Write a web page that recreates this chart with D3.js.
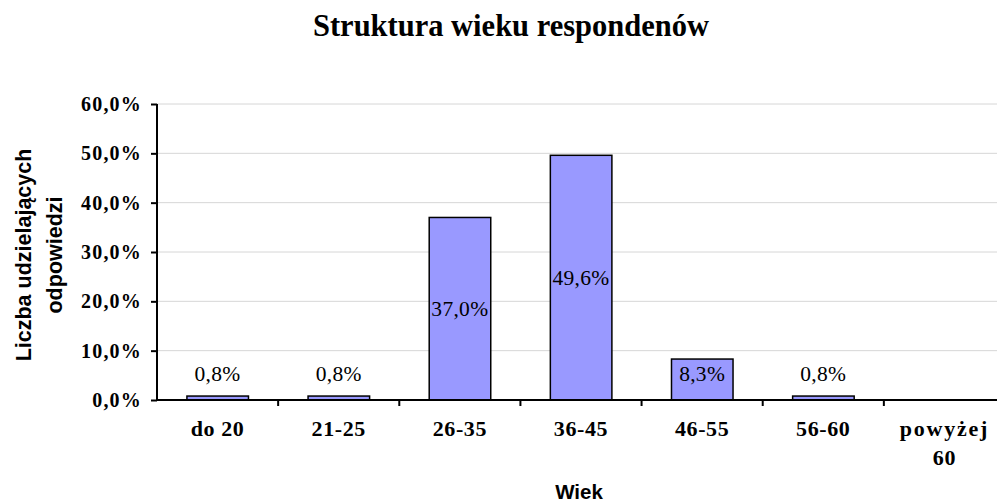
<!DOCTYPE html>
<html>
<head>
<meta charset="utf-8">
<script src="https://cdn.jsdelivr.net/npm/d3@7"></script>
<style>
  html, body { margin: 0; padding: 0; background: #fff; }
  svg { display: block; }
</style>
</head>
<body>
<script>
const categories = ["do 20", "21-25", "26-35", "36-45", "46-55", "56-60", "powyżej 60"];
const values = [0.8, 0.8, 37.0, 49.6, 8.3, 0.8, 0];
const yTicks = [0, 10, 20, 30, 40, 50, 60];
const title = "Struktura wieku respondenów";
const yTitle = ["Liczba udzielających", "odpowiedzi"];
const xTitle = "Wiek";

const W = 997, H = 503;
const mLeft = 157, mRight = 1005, mTop = 104, mBottom = 400;

const svg = d3.select("body").append("svg").attr("width", W).attr("height", H);

const x = d3.scaleBand().domain(categories).range([mLeft, mRight]).padding(0);
const y = d3.scaleLinear().domain([0, 60]).range([mBottom, mTop]);
const fmt = v => d3.format(".1f")(v).replace(".", ",") + "%";

// gridlines
svg.append("g").selectAll("line").data(yTicks.filter(d => d > 0)).join("line")
  .attr("x1", mLeft).attr("x2", mRight)
  .attr("y1", d => y(d)).attr("y2", d => y(d))
  .attr("stroke", "#d6d6d6").attr("stroke-width", 1);

// bars
const bw = x.bandwidth();
const data = categories.map((c, i) => ({ c, v: values[i] })).filter(d => d.v > 0);
svg.append("g").selectAll("rect").data(data).join("rect")
  .attr("x", d => x(d.c) + bw * 0.247)
  .attr("width", bw * 0.508)
  .attr("y", d => y(d.v))
  .attr("height", d => y(0) - y(d.v))
  .attr("fill", "#9999ff")
  .attr("stroke", "#000").attr("stroke-width", 1.5);

// data labels
svg.append("g").selectAll("text").data(data).join("text")
  .attr("x", d => x(d.c) + bw / 2)
  .attr("y", d => Math.min((y(d.v) + y(0)) / 2, y(0) - 26) + 7)
  .attr("text-anchor", "middle")
  .attr("font-family", "'Liberation Serif', 'Times New Roman', serif")
  .attr("font-size", 21.5)
  .attr("letter-spacing", 0.3)
  .attr("fill", "#000")
  .text(d => fmt(d.v));

// y axis
const yAxis = svg.append("g").attr("transform", `translate(${mLeft},0)`)
  .call(d3.axisLeft(y).tickValues(yTicks).tickSize(6).tickPadding(9).tickFormat(d => fmt(d)));
yAxis.select(".domain").attr("stroke", "#000").attr("stroke-width", 2).attr("d", `M0,${mTop}V${mBottom}`);
yAxis.selectAll(".tick line").attr("stroke", "#000").attr("stroke-width", 2);
yAxis.selectAll(".tick text")
  .attr("font-family", "'Liberation Serif', 'Times New Roman', serif")
  .attr("font-weight", "bold").attr("font-size", 20).attr("letter-spacing", 1.2)
  .attr("fill", "#000");

// x axis
const xAxis = svg.append("g").attr("transform", `translate(0,${mBottom})`)
  .call(d3.axisBottom(x).tickSize(0).tickFormat(""));
xAxis.select(".domain").attr("stroke", "#000").attr("stroke-width", 2).attr("d", `M${mLeft},0H${mRight}`);
xAxis.selectAll(".tick line").remove();
// category boundary ticks
svg.append("g").selectAll("line").data(categories.slice(1)).join("line")
  .attr("x1", d => x(d)).attr("x2", d => x(d))
  .attr("y1", mBottom).attr("y2", mBottom + 6)
  .attr("stroke", "#000").attr("stroke-width", 2);

// category labels
const catG = svg.append("g").selectAll("text").data(categories).join("text")
  .attr("x", d => x(d) + bw / 2)
  .attr("y", 436)
  .attr("text-anchor", "middle")
  .attr("font-family", "'Liberation Serif', 'Times New Roman', serif")
  .attr("font-weight", "bold").attr("font-size", 22)
  .attr("fill", "#000");
catG.each(function(d) {
  const parts = d === "powyżej 60" ? ["powyżej", "60"] : [d];
  const t = d3.select(this);
  parts.forEach((p, i) => {
    t.append("tspan").attr("x", x(d) + bw / 2).attr("dy", i === 0 ? 0 : 29)
      .attr("letter-spacing", p === "powyżej" ? 1.8 : 0.6)
      .text(p);
  });
});

// title
svg.append("text")
  .attr("x", 511).attr("y", 36)
  .attr("text-anchor", "middle")
  .attr("font-family", "'Liberation Serif', 'Times New Roman', serif")
  .attr("font-weight", "bold").attr("font-size", 30.5)
  .attr("fill", "#000")
  .text(title);

// y title
const yt = svg.append("text")
  .attr("transform", "translate(0,255) rotate(-90)")
  .attr("text-anchor", "middle")
  .attr("font-family", "'Liberation Sans', Arial, sans-serif")
  .attr("font-weight", "bold").attr("font-size", 21.5)
  .attr("fill", "#000");
yTitle.forEach((l, i) => yt.append("tspan").attr("x", 0).attr("y", i === 0 ? 31 : 62).text(l));

// x title
svg.append("text")
  .attr("x", 579).attr("y", 499)
  .attr("text-anchor", "middle")
  .attr("font-family", "'Liberation Sans', Arial, sans-serif")
  .attr("font-weight", "bold").attr("font-size", 20.5)
  .attr("fill", "#000")
  .text(xTitle);
</script>
</body>
</html>
